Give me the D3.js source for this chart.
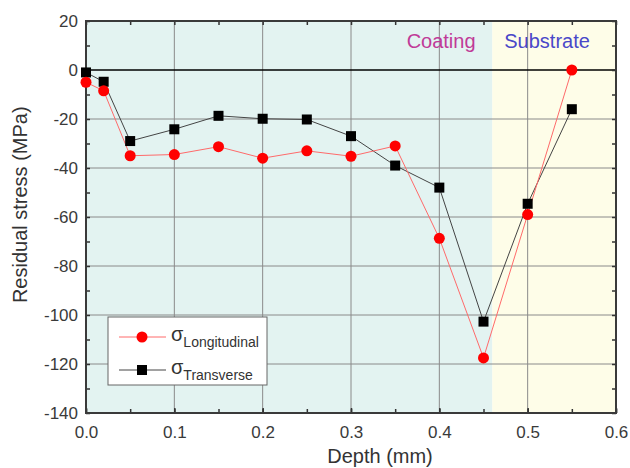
<!DOCTYPE html>
<html>
<head>
<meta charset="utf-8">
<script src="https://cdn.jsdelivr.net/npm/d3@7"></script>
<style>
  body { margin: 0; background: #fff; }
  text { font-family: "Liberation Sans", Arial, sans-serif; }
</style>
</head>
<body>
<svg id="chart" width="630" height="468"></svg>
<script>
// data
const depth = [0.0, 0.02, 0.05, 0.1, 0.15, 0.2, 0.25, 0.3, 0.35, 0.4, 0.45, 0.5, 0.55];
const longitudinal = [-5, -8.5, -35, -34.5, -31.3, -36, -33, -35.2, -31, -68.7, -117.5, -59, 0];
const transverse = [-1, -4.8, -29, -24.2, -18.7, -19.9, -20.2, -27, -39, -48, -102.7, -54.6, -16];
const xTicks = [0.0, 0.1, 0.2, 0.3, 0.4, 0.5, 0.6];
const yTicks = [20, 0, -20, -40, -60, -80, -100, -120, -140];
const coatingEnd = 0.46;

const svg = d3.select('#chart');
const margin = {left: 86, right: 14, top: 21, bottom: 55};
const W = 630, H = 468;

const x = d3.scaleLinear().domain([0, 0.6]).range([margin.left, W - margin.right]);
const y = d3.scaleLinear().domain([-140, 20]).range([H - margin.bottom, margin.top]);

// background regions
svg.append('rect')
    .attr('x', x(0)).attr('y', y(20))
    .attr('width', x(coatingEnd) - x(0)).attr('height', y(-140) - y(20))
    .attr('fill', '#e3f3f1');
svg.append('rect')
    .attr('x', x(coatingEnd)).attr('y', y(20))
    .attr('width', x(0.6) - x(coatingEnd)).attr('height', y(-140) - y(20))
    .attr('fill', '#fefde8');

// grid
svg.append('g').selectAll('line')
    .data(xTicks.slice(1, -1))
    .enter().append('line')
    .attr('x1', d => x(d)).attr('x2', d => x(d))
    .attr('y1', y(20)).attr('y2', y(-140))
    .attr('stroke', '#8a8a8a').attr('stroke-width', 1);
svg.append('g').selectAll('line')
    .data(yTicks.filter(d => d !== 20 && d !== -140 && d !== 0))
    .enter().append('line')
    .attr('x1', x(0)).attr('x2', x(0.6))
    .attr('y1', d => y(d)).attr('y2', d => y(d))
    .attr('stroke', '#8a8a8a').attr('stroke-width', 1);

// zero line
svg.append('line')
    .attr('x1', x(0)).attr('x2', x(0.6))
    .attr('y1', y(0)).attr('y2', y(0))
    .attr('stroke', '#000').attr('stroke-width', 1.5);

// axes, ticks pointing inward
function styleAxis(g) {
    g.select('.domain').remove();
    g.selectAll('line').attr('stroke', '#333').attr('stroke-width', 1.5);
    g.selectAll('text')
        .attr('fill', '#3a3a3a')
        .style('font-size', '17px');
}
const xMinor = d3.range(0, 0.61, 0.05);
const yMinor = d3.range(-140, 21, 10);

svg.append('g')
    .attr('transform', `translate(0,${y(-140)})`)
    .call(d3.axisBottom(x).tickValues(xMinor).tickSize(0).tickFormat(''))
    .call(g => { g.select('.domain').remove();
        g.selectAll('.tick line').attr('y2', -4).attr('stroke', '#333').attr('stroke-width', 1.5); });
svg.append('g')
    .attr('transform', `translate(0,${y(-140)})`)
    .call(d3.axisBottom(x).tickValues(xTicks).tickSizeInner(-5).tickPadding(13).tickFormat(d3.format('.1f')))
    .call(styleAxis);
svg.append('g')
    .attr('transform', `translate(0,${y(20)})`)
    .call(d3.axisTop(x).tickValues(xMinor).tickSizeInner(-4).tickFormat(''))
    .call(styleAxis);

svg.append('g')
    .attr('transform', `translate(${x(0)},0)`)
    .call(d3.axisLeft(y).tickValues(yMinor).tickSizeInner(-4).tickFormat(''))
    .call(styleAxis);
svg.append('g')
    .attr('transform', `translate(${x(0)},0)`)
    .call(d3.axisLeft(y).tickValues(yTicks).tickSize(0).tickPadding(8).tickFormat(d => String(d)))
    .call(styleAxis);
svg.append('g')
    .attr('transform', `translate(${x(0.6)},0)`)
    .call(d3.axisRight(y).tickValues(yMinor).tickSizeInner(-4).tickFormat(''))
    .call(styleAxis);

// frame
svg.append('rect')
    .attr('x', x(0)).attr('y', y(20))
    .attr('width', x(0.6) - x(0)).attr('height', y(-140) - y(20))
    .attr('fill', 'none').attr('stroke', '#3a3a3a').attr('stroke-width', 2);

// region labels
svg.append('text').attr('x', x(0.402)).attr('y', y(9))
    .attr('text-anchor', 'middle').attr('fill', '#c03a98')
    .style('font-size', '20px').text('Coating');
svg.append('text').attr('x', x(0.522)).attr('y', y(9))
    .attr('text-anchor', 'middle').attr('fill', '#4a48c8')
    .style('font-size', '20px').text('Substrate');

// series
const line = d3.line().x((d, i) => x(depth[i])).y(d => y(d));

svg.append('path').datum(transverse)
    .attr('d', line).attr('fill', 'none')
    .attr('stroke', '#444').attr('stroke-width', 1);
svg.append('path').datum(longitudinal)
    .attr('d', line).attr('fill', 'none')
    .attr('stroke', '#ff6a6a').attr('stroke-width', 1);

svg.append('g').selectAll('rect')
    .data(transverse)
    .enter().append('rect')
    .attr('x', (d, i) => x(depth[i]) - 5)
    .attr('y', d => y(d) - 5)
    .attr('width', 10).attr('height', 10)
    .attr('fill', '#000');
svg.append('g').selectAll('circle')
    .data(longitudinal)
    .enter().append('circle')
    .attr('cx', (d, i) => x(depth[i]))
    .attr('cy', d => y(d))
    .attr('r', 5.5)
    .attr('fill', '#ff0000');

// axis titles
svg.append('text')
    .attr('x', 380).attr('y', 463)
    .attr('text-anchor', 'middle').attr('fill', '#333')
    .style('font-size', '20px').text('Depth (mm)');
svg.append('text')
    .attr('transform', `translate(27,${y(-55)}) rotate(-90)`)
    .attr('text-anchor', 'middle').attr('fill', '#333')
    .style('font-size', '20px').text('Residual stress (MPa)');

// legend
const lg = svg.append('g');
lg.append('rect')
    .attr('x', 108).attr('y', 317).attr('width', 159).attr('height', 68)
    .attr('fill', '#fff').attr('stroke', '#666').attr('stroke-width', 1);
const legendItems = [
    {name: 'Longitudinal', line: '#ff6a6a', mark: 'circle', yy: 337},
    {name: 'Transverse', line: '#444', mark: 'rect', yy: 370}
];
legendItems.forEach(it => {
    lg.append('line').attr('x1', 119).attr('x2', 166)
        .attr('y1', it.yy).attr('y2', it.yy)
        .attr('stroke', it.line).attr('stroke-width', 1);
    if (it.mark === 'circle') {
        lg.append('circle').attr('cx', 142).attr('cy', it.yy).attr('r', 5.5).attr('fill', '#ff0000');
    } else {
        lg.append('rect').attr('x', 137).attr('y', it.yy - 5).attr('width', 10).attr('height', 10).attr('fill', '#000');
    }
    const t = lg.append('text').attr('x', 171).attr('y', it.yy + 4).attr('fill', '#333');
    t.append('tspan').style('font-size', '20px').text('σ');
    t.append('tspan').attr('dy', 6).style('font-size', '14px').text(it.name);
});
</script>
</body>
</html>
